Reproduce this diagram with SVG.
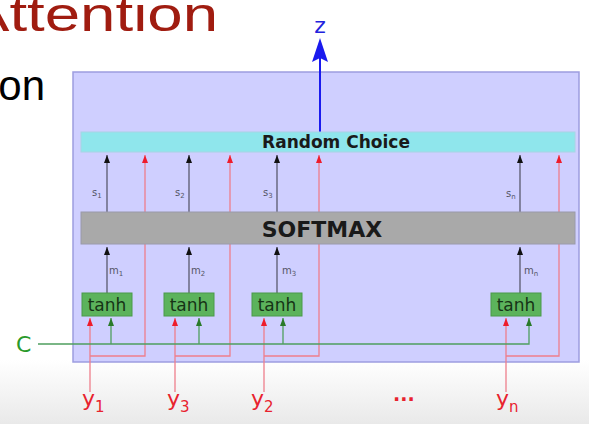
<svg xmlns="http://www.w3.org/2000/svg" width="589" height="424" viewBox="0 0 589 424">
<defs>
<linearGradient id="bg" x1="0" y1="0" x2="0" y2="1">
<stop offset="0" stop-color="#ffffff"/>
<stop offset="1" stop-color="#e9e9e9"/>
</linearGradient>
<marker id="ab" viewBox="0 0 8 6" refX="8" refY="3" markerWidth="8" markerHeight="6" markerUnits="userSpaceOnUse" orient="auto"><path d="M0,0 L8,3 L0,6 z" fill="#111"/></marker>
<marker id="ar" viewBox="0 0 8 6" refX="8" refY="3" markerWidth="9" markerHeight="6" markerUnits="userSpaceOnUse" orient="auto"><path d="M0,0 L8,3 L0,6 z" fill="#ee1c2c"/></marker>
<marker id="ag" viewBox="0 0 8 6" refX="8" refY="3" markerWidth="8" markerHeight="6" markerUnits="userSpaceOnUse" orient="auto"><path d="M0,0 L8,3 L0,6 z" fill="#2a7a2a"/></marker>
</defs>
<style>
.blk{stroke:#5a5a6e;stroke-width:1.3;fill:none;marker-end:url(#ab)}
.reda{stroke:#ef7f8c;stroke-width:1.3;fill:none;marker-end:url(#ar)}
.grna{stroke:#4f9f5f;stroke-width:1.3;fill:none;marker-end:url(#ag)}
.bar{stroke-width:1}
.tanh rect{fill:#5cb35c;stroke:#4a9a4a;stroke-width:1}
.tanh text{font-family:"DejaVu Sans",sans-serif;font-size:17px;fill:#163316;text-anchor:middle}
.sm{font-family:"DejaVu Sans",sans-serif;font-size:10px;fill:#555566}
.sub{font-size:7px}
.yl{font-family:"DejaVu Sans",sans-serif;font-size:22px;fill:#e8222e}
.ys{font-size:15px}
</style>
<rect x="0" y="360" width="589" height="64" fill="url(#bg)"/>
<text x="-33" y="31" font-family="Liberation Sans, Arial, sans-serif" font-size="48" fill="#a01c10" textLength="251" lengthAdjust="spacingAndGlyphs">Attention</text>
<text x="45" y="100" font-family="Liberation Sans, Arial, sans-serif" font-size="42" fill="#000" text-anchor="end">on</text>
<g id="panel"><rect x="73" y="72" width="506" height="290" fill="#cfcfff" stroke="#9d9de0" stroke-width="1.5"/></g>
<g id="connectors">
<path class="blk" d="M107,212 V155"/>
<path class="blk" d="M189,212 V155"/>
<path class="blk" d="M277,212 V155"/>
<path class="blk" d="M520,212 V155"/>
<path class="blk" d="M107,293 V247"/>
<path class="blk" d="M189,293 V247"/>
<path class="blk" d="M277,293 V247"/>
<path class="blk" d="M520,293 V247"/>
<path class="reda" d="M90,392 V318"/>
<path class="reda" d="M175,392 V318"/>
<path class="reda" d="M264,392 V318"/>
<path class="reda" d="M506,392 V318"/>
<path class="reda" d="M90,356 H145 V155"/>
<path class="reda" d="M175,356 H230 V155"/>
<path class="reda" d="M264,356 H319 V155"/>
<path class="reda" d="M506,356 H559 V155"/>
<path class="grna" d="M38,344 H529 V318"/>
<path class="grna" d="M111,344 V318"/>
<path class="grna" d="M199,344 V318"/>
<path class="grna" d="M283,344 V318"/>
<path d="M320,132 V56" stroke="#1a1aee" stroke-width="2" fill="none"/>
<path d="M320,38 L328,62 L320,58 L312,62 Z" fill="#1a1aee"/>
<text class="sm" x="92" y="196">s<tspan class="sub" dy="2">1</tspan></text>
<text class="sm" x="175" y="196">s<tspan class="sub" dy="2">2</tspan></text>
<text class="sm" x="263" y="196">s<tspan class="sub" dy="2">3</tspan></text>
<text class="sm" x="506" y="197">s<tspan class="sub" dy="2">n</tspan></text>
<text class="sm" x="109" y="274">m<tspan class="sub" dy="2">1</tspan></text>
<text class="sm" x="191" y="274">m<tspan class="sub" dy="2">2</tspan></text>
<text class="sm" x="282" y="274">m<tspan class="sub" dy="2">3</tspan></text>
<text class="sm" x="524" y="274">m<tspan class="sub" dy="2">n</tspan></text>
</g>
<g id="random-choice"><rect class="bar" x="81" y="132" width="494" height="20" fill="#8fe6ec" stroke="#a8d4e4"/><text x="336" y="148" font-family="DejaVu Sans, sans-serif" font-weight="bold" font-size="17" fill="#1a1a1a" text-anchor="middle">Random Choice</text></g>
<g id="softmax"><rect class="bar" x="81" y="212" width="494" height="32" fill="#a9a9a9" stroke="#9a9aaa"/><text x="322" y="237" font-family="DejaVu Sans, sans-serif" font-weight="bold" font-size="22" fill="#1a1a1a" text-anchor="middle">SOFTMAX</text></g>
<g id="tanh1" class="tanh"><rect x="82" y="293" width="50" height="23"/><text x="107" y="311">tanh</text></g>
<g id="tanh2" class="tanh"><rect x="164" y="293" width="50" height="23"/><text x="189" y="311">tanh</text></g>
<g id="tanh3" class="tanh"><rect x="252" y="293" width="50" height="23"/><text x="277" y="311">tanh</text></g>
<g id="tanhn" class="tanh"><rect x="491" y="293" width="50" height="23"/><text x="516" y="311">tanh</text></g>
<g id="z"><text x="320" y="33" font-family="DejaVu Sans, sans-serif" font-size="22" fill="#2222dd" text-anchor="middle">z</text></g>
<g id="c"><text x="16" y="352" font-family="DejaVu Sans, sans-serif" font-size="22" fill="#2a9a2a">C</text></g>
<g id="y1"><text class="yl" x="82" y="406">y<tspan class="ys" dy="6">1</tspan></text></g>
<g id="y3"><text class="yl" x="167" y="406">y<tspan class="ys" dy="6">3</tspan></text></g>
<g id="y2"><text class="yl" x="251" y="406">y<tspan class="ys" dy="6">2</tspan></text></g>
<g id="dots"><text x="393" y="401" font-family="DejaVu Sans, sans-serif" font-size="19" font-weight="bold" fill="#e8222e">...</text></g>
<g id="yn"><text class="yl" x="496" y="406">y<tspan class="ys" dy="6">n</tspan></text></g>
</svg>
